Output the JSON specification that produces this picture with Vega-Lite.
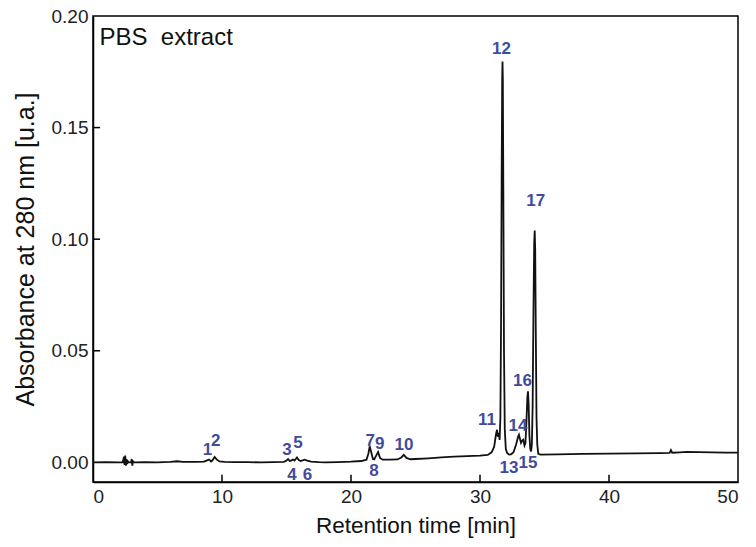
{
  "$schema": "https://vega.github.io/schema/vega-lite/v6.json",
  "width": 645,
  "height": 466,
  "autosize": {"type": "none"},
  "padding": {"left": 93, "top": 16, "right": 18, "bottom": 65},
  "background": "white",
  "config": {
    "font": "Liberation Sans",
    "view": {"stroke": "black", "strokeWidth": 1.5},
    "axis": {
      "grid": false,
      "ticks": false,
      "tickSize": 0,
      "labelPadding": 5,
      "domainColor": "black",
      "domainWidth": 1.5,
      "labelFontSize": 19,
      "labelColor": "#222222",
      "titleFontSize": 22.5,
      "titleFontWeight": "normal",
      "titleColor": "#111111"
    }
  },
  "datasets": {
    "trace": [
      {"t": 0, "a": 0.0}, {"t": 1, "a": 0.0001}, {"t": 2, "a": 0.0}, {"t": 2.3, "a": 0.0},
      {"t": 2.4, "a": 0.0025}, {"t": 2.45, "a": -0.0012}, {"t": 2.5, "a": 0.003}, {"t": 2.55, "a": -0.0015},
      {"t": 2.6, "a": 0.0015}, {"t": 2.65, "a": -0.0008}, {"t": 2.7, "a": 0.0005}, {"t": 2.8, "a": 0.0},
      {"t": 2.95, "a": 0.0}, {"t": 3.0, "a": 0.0015}, {"t": 3.05, "a": -0.0015}, {"t": 3.1, "a": 0.0005},
      {"t": 3.2, "a": 0.0}, {"t": 4, "a": 0.0001}, {"t": 5, "a": 0.0}, {"t": 6, "a": 0.0002},
      {"t": 6.5, "a": 0.0005}, {"t": 7, "a": 0.0002}, {"t": 8, "a": 0.0002}, {"t": 8.6, "a": 0.0003},
      {"t": 8.8, "a": 0.0008}, {"t": 8.99, "a": 0.0013}, {"t": 9.15, "a": 0.0004}, {"t": 9.25, "a": 0.0008},
      {"t": 9.43, "a": 0.0024}, {"t": 9.6, "a": 0.0012}, {"t": 9.8, "a": 0.0004}, {"t": 10.2, "a": 0.0002},
      {"t": 11, "a": 0.0001}, {"t": 12, "a": 0.0001}, {"t": 13, "a": 0.0}, {"t": 14, "a": 0.0001},
      {"t": 14.8, "a": 0.0002}, {"t": 15.0, "a": 0.0008}, {"t": 15.12, "a": 0.0015}, {"t": 15.25, "a": 0.0006},
      {"t": 15.35, "a": 0.0008}, {"t": 15.5, "a": 0.0013}, {"t": 15.62, "a": 0.0008}, {"t": 15.81, "a": 0.0022},
      {"t": 15.95, "a": 0.001}, {"t": 16.1, "a": 0.0006}, {"t": 16.25, "a": 0.0009}, {"t": 16.41, "a": 0.0012},
      {"t": 16.6, "a": 0.0008}, {"t": 16.9, "a": 0.0003}, {"t": 17.5, "a": 0.0001}, {"t": 18, "a": 0.0},
      {"t": 19, "a": 0.0001}, {"t": 20, "a": 0.0003}, {"t": 20.8, "a": 0.0006}, {"t": 21.2, "a": 0.0012},
      {"t": 21.35, "a": 0.004}, {"t": 21.45, "a": 0.0072}, {"t": 21.55, "a": 0.005}, {"t": 21.7, "a": 0.0015},
      {"t": 21.8, "a": 0.0013}, {"t": 21.95, "a": 0.003}, {"t": 22.1, "a": 0.0046}, {"t": 22.25, "a": 0.002},
      {"t": 22.45, "a": 0.0012}, {"t": 23, "a": 0.0012}, {"t": 23.6, "a": 0.0013}, {"t": 23.9, "a": 0.0022},
      {"t": 24.09, "a": 0.0034}, {"t": 24.3, "a": 0.002}, {"t": 24.6, "a": 0.0014}, {"t": 25, "a": 0.0015},
      {"t": 26, "a": 0.0018}, {"t": 27, "a": 0.0022}, {"t": 28, "a": 0.0026}, {"t": 29, "a": 0.0028},
      {"t": 30, "a": 0.003}, {"t": 30.6, "a": 0.0033}, {"t": 30.9, "a": 0.0045}, {"t": 31.1, "a": 0.007},
      {"t": 31.25, "a": 0.013}, {"t": 31.32, "a": 0.0146}, {"t": 31.38, "a": 0.0115}, {"t": 31.47, "a": 0.0132},
      {"t": 31.52, "a": 0.01}, {"t": 31.58, "a": 0.02}, {"t": 31.63, "a": 0.06}, {"t": 31.68, "a": 0.13},
      {"t": 31.72, "a": 0.172}, {"t": 31.745, "a": 0.1796}, {"t": 31.77, "a": 0.172}, {"t": 31.81, "a": 0.12},
      {"t": 31.86, "a": 0.05}, {"t": 31.92, "a": 0.015}, {"t": 32.0, "a": 0.006}, {"t": 32.1, "a": 0.0042},
      {"t": 32.25, "a": 0.0035}, {"t": 32.4, "a": 0.0036}, {"t": 32.6, "a": 0.0045}, {"t": 32.8, "a": 0.008},
      {"t": 32.95, "a": 0.0115}, {"t": 33.02, "a": 0.0124}, {"t": 33.1, "a": 0.0105}, {"t": 33.18, "a": 0.0087},
      {"t": 33.27, "a": 0.0098}, {"t": 33.35, "a": 0.0102}, {"t": 33.45, "a": 0.0075}, {"t": 33.52, "a": 0.0085},
      {"t": 33.6, "a": 0.018}, {"t": 33.67, "a": 0.029}, {"t": 33.72, "a": 0.0318}, {"t": 33.77, "a": 0.026},
      {"t": 33.83, "a": 0.012}, {"t": 33.9, "a": 0.006}, {"t": 33.96, "a": 0.0049}, {"t": 34.02, "a": 0.008},
      {"t": 34.08, "a": 0.025}, {"t": 34.14, "a": 0.065}, {"t": 34.2, "a": 0.098}, {"t": 34.24, "a": 0.1039},
      {"t": 34.28, "a": 0.095}, {"t": 34.33, "a": 0.055}, {"t": 34.38, "a": 0.02}, {"t": 34.44, "a": 0.008},
      {"t": 34.52, "a": 0.0038}, {"t": 34.7, "a": 0.0035}, {"t": 36, "a": 0.0036}, {"t": 38, "a": 0.0038},
      {"t": 40, "a": 0.0039}, {"t": 42, "a": 0.004}, {"t": 44, "a": 0.0041}, {"t": 44.7, "a": 0.0042},
      {"t": 44.8, "a": 0.0055}, {"t": 44.9, "a": 0.0043}, {"t": 45.5, "a": 0.0045}, {"t": 46, "a": 0.0047},
      {"t": 47, "a": 0.0046}, {"t": 48, "a": 0.0045}, {"t": 49, "a": 0.0044}, {"t": 50, "a": 0.0044}
    ],
    "labels": [
      {"t": 8.87, "y": 0.0057, "label": "1"},
      {"t": 9.51, "y": 0.0094, "label": "2"},
      {"t": 15.04, "y": 0.0057, "label": "3"},
      {"t": 15.43, "y": -0.0055, "label": "4"},
      {"t": 15.89, "y": 0.0087, "label": "5"},
      {"t": 16.62, "y": -0.0055, "label": "6"},
      {"t": 21.5, "y": 0.0094, "label": "7"},
      {"t": 21.78, "y": -0.004, "label": "8"},
      {"t": 22.23, "y": 0.0084, "label": "9"},
      {"t": 24.1, "y": 0.0079, "label": "10"},
      {"t": 30.54, "y": 0.0188, "label": "11"},
      {"t": 31.66, "y": 0.185, "label": "12"},
      {"t": 32.25, "y": -0.0025, "label": "13"},
      {"t": 32.95, "y": 0.0164, "label": "14"},
      {"t": 33.72, "y": -0.0003, "label": "15"},
      {"t": 33.29, "y": 0.0363, "label": "16"},
      {"t": 34.32, "y": 0.1169, "label": "17"}
    ],
    "heading": [
      {"t": 0.5, "y": 0.187, "text": "PBS\u00a0\u00a0extract"}
    ],
    "xticks": [{"t": 10}, {"t": 20}, {"t": 30}, {"t": 40}],
    "yticks": [{"a": 0.05}, {"a": 0.1}, {"a": 0.15}]
  },
  "layer": [
    {
      "data": {"name": "trace"},
      "mark": {"type": "line", "color": "#111111", "strokeWidth": 1.8, "clip": true},
      "encoding": {
        "x": {
          "field": "t", "type": "quantitative",
          "scale": {"domain": [0, 50], "nice": false},
          "axis": {"values": [0, 10, 20, 30, 40, 50], "title": "Retention time [min]", "titlePadding": 8}
        },
        "y": {
          "field": "a", "type": "quantitative",
          "scale": {"domain": [-0.0088, 0.2], "nice": false, "zero": false},
          "axis": {"values": [0, 0.05, 0.1, 0.15, 0.2], "format": ".2f", "title": "Absorbance at 280 nm [u.a.]", "titleFontSize": 25, "titlePadding": 13}
        }
      }
    },
    {
      "data": {"name": "xticks"},
      "mark": {"type": "rule", "color": "black", "strokeWidth": 1.5},
      "encoding": {
        "x": {"field": "t", "type": "quantitative"},
        "y": {"datum": -0.0088},
        "y2": {"datum": -0.0056}
      }
    },
    {
      "data": {"name": "yticks"},
      "mark": {"type": "rule", "color": "black", "strokeWidth": 1.5},
      "encoding": {
        "y": {"field": "a", "type": "quantitative"},
        "x": {"datum": 0},
        "x2": {"datum": 0.55}
      }
    },
    {
      "data": {"name": "labels"},
      "mark": {"type": "text", "color": "#3f4c9e", "fontSize": 17, "fontWeight": "bold", "baseline": "middle", "align": "center"},
      "encoding": {
        "x": {"field": "t", "type": "quantitative"},
        "y": {"field": "y", "type": "quantitative"},
        "text": {"field": "label"}
      }
    },
    {
      "data": {"name": "heading"},
      "mark": {"type": "text", "color": "#111111", "fontSize": 24, "baseline": "alphabetic", "align": "left"},
      "encoding": {
        "x": {"field": "t", "type": "quantitative"},
        "y": {"field": "y", "type": "quantitative"},
        "text": {"field": "text"}
      }
    }
  ]
}
